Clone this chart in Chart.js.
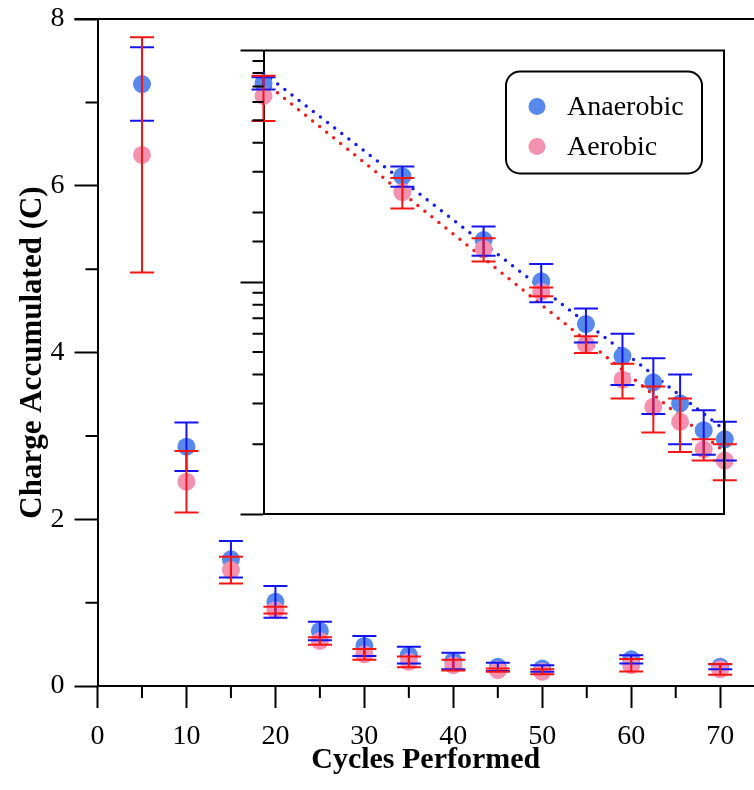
<!DOCTYPE html>
<html>
<head>
<meta charset="utf-8">
<script src="https://cdn.jsdelivr.net/npm/chart.js@4/dist/chart.umd.min.js"></script>
<style>
  body { margin: 0; background: #fff; }
  #wrap { position: relative; width: 754px; height: 790px; overflow: hidden; }
  #inset { position: absolute; left: 200px; top: 0; }
</style>
</head>
<body>
<div id="wrap">
  <canvas id="main" width="754" height="790"></canvas>
  <canvas id="inset" width="554" height="540"></canvas>
</div>
<script>
const cycles = [5, 10, 15, 20, 25, 30, 35, 40, 45, 50, 60, 70];
const anaerobic = [7.22, 2.87, 1.52, 1.01, 0.66, 0.48, 0.37, 0.30, 0.23, 0.21, 0.32, 0.23];
const anaerobicErr = [0.44, 0.29, 0.22, 0.19, 0.11, 0.12, 0.10, 0.10, 0.05, 0.04, 0.05, 0.03];
const aerobic = [6.37, 2.45, 1.39, 0.91, 0.54, 0.38, 0.29, 0.25, 0.19, 0.17, 0.25, 0.20];
const aerobicErr = [1.41, 0.37, 0.16, 0.04, 0.045, 0.065, 0.065, 0.065, 0.02, 0.03, 0.075, 0.065];

// power-law fits shown on the log-log inset (end points)
const fitCycles = [5, 50];
const anaerobicFit = [8.0, 0.23];
const aerobicFit = [7.35, 0.185];

const BLUE_DOT = 'rgb(88,136,236)';
const PINK_DOT = 'rgb(243,146,176)';
const BLUE_BAR = 'rgb(20,20,240)';
const RED_BAR = 'rgb(245,20,20)';

Chart.defaults.font.family = '"Liberation Serif", serif';
Chart.defaults.color = '#000';
Chart.defaults.animation = false;
Chart.defaults.events = [];

const pts = (xs, ys) => xs.map((x, i) => ({x: x, y: ys[i]}));

// fixed axis boxes so the plot area lands where it should
const fixBox = (w, h) => s => {
  if (w != null) s.width = w;
  if (h != null) s.height = h;
  s.paddingTop = 0; s.paddingBottom = 0;
  s.paddingLeft = 0; s.paddingRight = 0;
};

// let the x axis run all the way to the right edge of the canvas
const toRightEdge = {
  id: 'toRightEdge',
  afterLayout(chart) {
    const x = chart.scales.x;
    const a = chart.chartArea;
    x.right = chart.width;
    x.width = x.right - x.left;
    x.configure();
    a.right = chart.width;
    a.width = a.right - a.left;
  }
};

const errorBars = {
  id: 'errorBars',
  afterDatasetsDraw(chart) {
    const {ctx, scales: {x, y}} = chart;
    chart.data.datasets.forEach(ds => {
      if (!ds.errors) return;
      ctx.save();
      ctx.strokeStyle = ds.errorColor;
      ctx.lineWidth = 2;
      ds.data.forEach((p, j) => {
        const px = x.getPixelForValue(p.x);
        const hi = y.getPixelForValue(p.y + ds.errors[j]);
        const lo = y.getPixelForValue(p.y - ds.errors[j]);
        const w = 12;
        ctx.beginPath();
        ctx.moveTo(px, hi); ctx.lineTo(px, lo);
        ctx.moveTo(px - w, hi); ctx.lineTo(px + w, hi);
        ctx.moveTo(px - w, lo); ctx.lineTo(px + w, lo);
        ctx.stroke();
      });
      ctx.restore();
    });
  }
};

// short ticks for the unlabelled values plus the top frame line
const mainFrame = {
  id: 'mainFrame',
  afterDraw(chart) {
    const {ctx, chartArea: a, scales: {x, y}} = chart;
    ctx.save();
    ctx.strokeStyle = '#000';
    ctx.lineWidth = 2;
    ctx.beginPath();
    ctx.moveTo(a.left - 23, a.top); ctx.lineTo(a.right, a.top);
    x.ticks.forEach(t => {
      if (t.value % 10 === 5) {
        const px = x.getPixelForValue(t.value);
        ctx.moveTo(px, a.bottom); ctx.lineTo(px, a.bottom + 12);
      }
    });
    y.ticks.forEach(t => {
      if (t.value % 2 === 1) {
        const py = y.getPixelForValue(t.value);
        ctx.moveTo(a.left - 12, py); ctx.lineTo(a.left, py);
      }
    });
    ctx.stroke();
    ctx.restore();
  }
};

const isDecade = v => Math.abs(Math.log10(v) - Math.round(Math.log10(v))) < 1e-6;

const insetFrame = {
  id: 'insetFrame',
  afterDraw(chart) {
    const {ctx, chartArea: a, scales: {y}} = chart;
    ctx.save();
    ctx.strokeStyle = '#000';
    ctx.lineWidth = 2;
    ctx.beginPath();
    ctx.moveTo(a.left, a.top); ctx.lineTo(a.right, a.top); ctx.lineTo(a.right, a.bottom);
    y.ticks.forEach(t => {
      if (!isDecade(t.value)) {
        const py = y.getPixelForValue(t.value);
        ctx.moveTo(a.left - 11, py); ctx.lineTo(a.left, py);
      }
    });
    ctx.stroke();

    // legend box
    const bx = a.right - 218, by = a.top + 21, bw = 196, bh = 102;
    ctx.lineWidth = 2;
    ctx.beginPath();
    ctx.roundRect(bx, by, bw, bh, 14);
    ctx.fillStyle = '#fff';
    ctx.fill();
    ctx.stroke();
    ctx.font = '28px "Liberation Serif", serif';
    ctx.textBaseline = 'middle';
    ctx.textAlign = 'left';
    [0, 1].forEach((i, k) => {
      const ds = chart.data.datasets[i];
      const cy = by + 35 + k * 40;
      ctx.fillStyle = ds.backgroundColor;
      ctx.beginPath();
      ctx.arc(bx + 31, cy, 8.5, 0, Math.PI * 2);
      ctx.fill();
      ctx.fillStyle = '#000';
      ctx.fillText(ds.label, bx + 61, cy + 1);
    });
    ctx.restore();
  }
};

const pointSet = (label, ys, errs, dot, bar, order, n) => ({
  type: 'scatter',
  label: label,
  data: pts(cycles.slice(0, n), ys.slice(0, n)),
  errors: errs.slice(0, n),
  errorColor: bar,
  backgroundColor: dot,
  borderWidth: 0,
  pointRadius: 9,
  order: order,
  clip: false
});

new Chart(document.getElementById('main'), {
  type: 'scatter',
  data: {
    datasets: [
      pointSet('Anaerobic', anaerobic, anaerobicErr, BLUE_DOT, BLUE_BAR, 2, cycles.length),
      pointSet('Aerobic', aerobic, aerobicErr, PINK_DOT, RED_BAR, 1, cycles.length)
    ]
  },
  options: {
    responsive: false,
    layout: { padding: { top: 19, right: 0, left: 0, bottom: 0 } },
    plugins: { legend: { display: false }, tooltip: { enabled: false } },
    scales: {
      x: {
        type: 'linear',
        min: 0,
        max: 73.8,
        ticks: {
          stepSize: 5,
          includeBounds: false,
          autoSkip: false,
          maxRotation: 0,
          padding: 12,
          font: { size: 28 },
          callback: v => (v % 10 === 0 ? v : '')
        },
        grid: {
          drawOnChartArea: false,
          tickLength: 22,
          tickWidth: 2,
          tickColor: c => (c.tick && c.tick.value % 10 === 0 ? '#000' : 'rgba(0,0,0,0)')
        },
        border: { color: '#000', width: 2 },
        title: {
          display: true,
          text: 'Cycles Performed',
          font: { size: 30, weight: 'bold' },
          padding: { top: 0, bottom: 12 }
        },
        afterFit: fixBox(null, 104)
      },
      y: {
        type: 'linear',
        min: 0,
        max: 8,
        ticks: {
          stepSize: 1,
          padding: 10,
          font: { size: 28 },
          callback: v => (v % 2 === 0 ? v : '')
        },
        grid: {
          drawOnChartArea: false,
          tickLength: 23,
          tickWidth: 2,
          tickColor: c => (c.tick && c.tick.value % 2 === 0 ? '#000' : 'rgba(0,0,0,0)')
        },
        border: { color: '#000', width: 2 },
        title: {
          display: true,
          text: 'Charge Accumulated (C)',
          font: { size: 31, weight: 'bold' },
          padding: { top: 14, bottom: 0 }
        },
        afterFit: fixBox(97.5, null)
      }
    }
  },
  plugins: [toRightEdge, errorBars, mainFrame]
});

// log-log inset of the first ten cycles
const nInset = 10;
const fitLine = (label, ys, color) => ({
  type: 'line',
  label: label,
  data: pts(fitCycles, ys),
  borderColor: color,
  borderWidth: 3.5,
  borderDash: [0, 9],
  borderCapStyle: 'round',
  pointRadius: 0,
  fill: false,
  order: 3,
  clip: false
});

new Chart(document.getElementById('inset'), {
  type: 'scatter',
  data: {
    datasets: [
      pointSet('Anaerobic', anaerobic, anaerobicErr, BLUE_DOT, BLUE_BAR, 2, nInset),
      pointSet('Aerobic', aerobic, aerobicErr, PINK_DOT, RED_BAR, 1, nInset),
      fitLine('Anaerobic fit', anaerobicFit, 'rgb(25,30,230)'),
      fitLine('Aerobic fit', aerobicFit, 'rgb(240,30,30)')
    ]
  },
  options: {
    responsive: false,
    layout: { padding: { top: 50.5, right: 30, left: 0, bottom: 0 } },
    plugins: { legend: { display: false }, tooltip: { enabled: false } },
    scales: {
      x: {
        type: 'logarithmic',
        min: 5,
        max: 49.8,
        ticks: { display: false },
        grid: { display: false },
        border: { color: '#000', width: 2 },
        afterFit: fixBox(null, 26)
      },
      y: {
        type: 'logarithmic',
        min: 0.1,
        max: 10,
        ticks: { display: false },
        grid: {
          drawOnChartArea: false,
          tickLength: 23,
          tickWidth: 2,
          tickColor: c => (c.tick && isDecade(c.tick.value) ? '#000' : 'rgba(0,0,0,0)')
        },
        border: { color: '#000', width: 2 },
        afterFit: fixBox(63.5, null)
      }
    }
  },
  plugins: [errorBars, insetFrame]
});
</script>
</body>
</html>
